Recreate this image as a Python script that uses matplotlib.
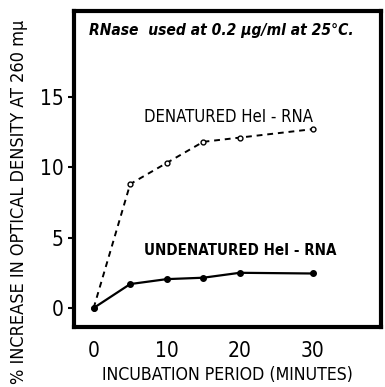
import numpy as np
import matplotlib
matplotlib.use("Agg")
import matplotlib.pyplot as plt

# incubation time in minutes
minutes = [0, 5, 10, 15, 20, 30]
# % increase in optical density at 260 mu
denatured = [0.0, 8.8, 10.3, 11.8, 12.1, 12.7]
undenatured = [0.0, 1.7, 2.05, 2.15, 2.5, 2.45]

x_ticks = [0, 10, 20, 30]
y_ticks = [0, 5, 10, 15]

plt.rcParams['font.family'] = ['DejaVu Sans']
plt.rcParams['font.stretch'] = 'condensed'

fig = plt.figure(figsize=(3.85, 3.87), dpi=100)
ax = fig.add_axes([0.192, 0.155, 0.797, 0.817])

# dashed line with open circles for the denatured RNA
ax.plot(minutes, denatured, color='black', linestyle=(0, (3, 2.5)), linewidth=1.4,
        marker='o', markersize=3.5, markerfacecolor='white', markeredgewidth=1.0)
# solid line with filled dots for undenatured
ax.plot(minutes, undenatured, color='black', linestyle='-', linewidth=1.6,
        marker='o', markersize=4, markerfacecolor='black')

ax.set_xlim(-2.7, 39.3)
ax.set_ylim(-1.35, 21.1)
ax.set_xticks(x_ticks)
ax.set_yticks(y_ticks)
ax.tick_params(axis='both', labelsize=15, width=1.5, length=4, direction='out')
ax.tick_params(axis='x', length=0, pad=10)

for s in ax.spines.values():
    s.set_linewidth(3)

ax.text(0.05, 0.925, 'RNase  used at 0.2 \u03bcg/ml at 25\u00b0C.', transform=ax.transAxes,
        fontsize=11.2, fontstyle='italic', fontweight='bold')
ax.text(18.4, 13.55, 'DENATURED HeI - RNA', ha='center', va='center', fontsize=12)
ax.text(20.0, 4.1, 'UNDENATURED HeI - RNA', ha='center', va='center', fontsize=10.8,
        fontweight='bold')

ax.set_xlabel('INCUBATION PERIOD (MINUTES)', fontsize=12.7, labelpad=4)
ax.set_ylabel('% INCREASE IN OPTICAL DENSITY AT 260 m\u03bc', fontsize=13)
ax.yaxis.set_label_coords(-0.15, 0.395)

fig.savefig('out.png', dpi=100)
